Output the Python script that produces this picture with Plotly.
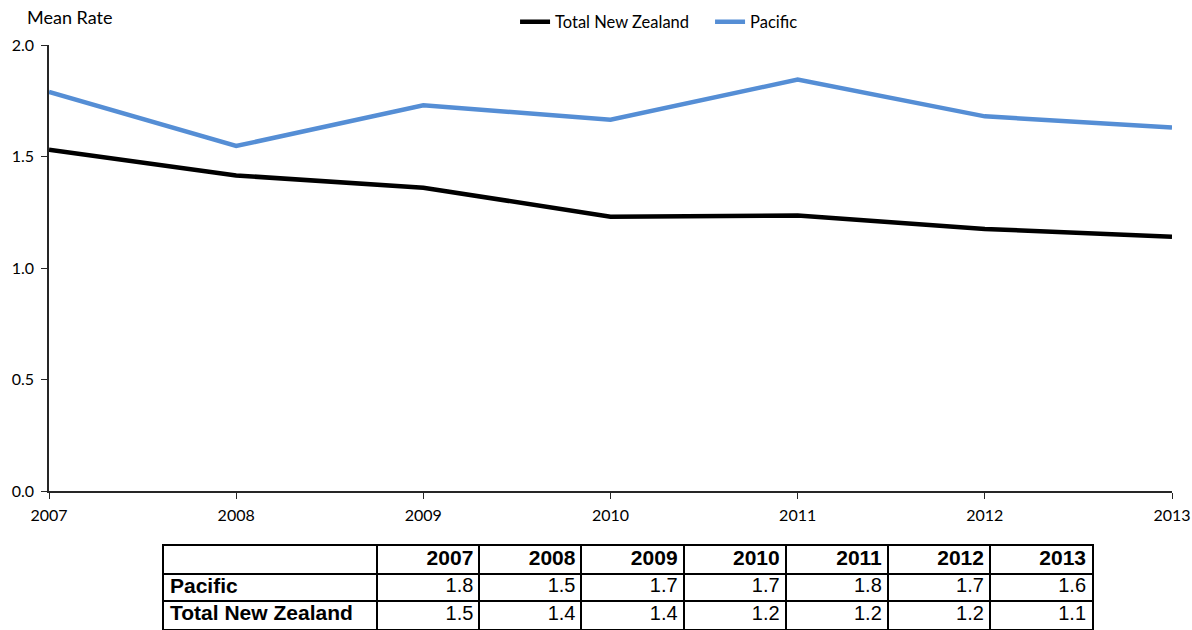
import plotly.graph_objects as go

# data
years = [2007, 2008, 2009, 2010, 2011, 2012, 2013]
pacific = [1.79, 1.547, 1.73, 1.665, 1.845, 1.68, 1.63]
total_nz = [1.53, 1.415, 1.36, 1.23, 1.235, 1.175, 1.14]

# values printed in the table under the chart
pacific_table = [1.8, 1.5, 1.7, 1.7, 1.8, 1.7, 1.6]
total_nz_table = [1.5, 1.4, 1.4, 1.2, 1.2, 1.2, 1.1]
row_labels = ["Pacific", "Total New Zealand"]

y_ticks = [0, 0.5, 1.0, 1.5, 2.0]

chart_font = "Lato"
table_font = "Liberation Sans"

# table column widths (px-like units on the table axis)
col_w = [213] + [102] * len(years)
edges = [0]
for w in col_w:
    edges.append(edges[-1] + w)
pad = 6

fig = go.Figure()

fig.add_trace(go.Scatter(x=years, y=total_nz, mode="lines", name="Total New Zealand",
                         line=dict(color="black", width=4.5)))
fig.add_trace(go.Scatter(x=years, y=pacific, mode="lines", name="Pacific",
                         line=dict(color="#558ED5", width=4.5)))

# table: gridlines of a second axis pair make the borders, text trace fills the cells
tx, ty, tt, tp, tf = [], [], [], [], []
for i, y in enumerate(years):
    right = edges[i + 2] - pad
    tx += [right, right, right]
    ty += [0.5, 1.5, 2.5]
    tt += ["<b>%d</b>" % y, "%.1f" % pacific_table[i], "%.1f" % total_nz_table[i]]
    tp += ["middle left"] * 3
    tf += [21, 20, 20]
for j, lab in enumerate(row_labels):
    tx.append(pad)
    ty.append(1.5 + j)
    tt.append("<b>%s</b>" % lab)
    tp.append("middle right")
    tf.append(21)

fig.add_trace(go.Scatter(x=tx, y=ty, text=tt, mode="text", textposition=tp,
                         textfont=dict(family=table_font, size=tf, color="black"),
                         xaxis="x2", yaxis="y2", showlegend=False, hoverinfo="skip"))

fig.add_annotation(text="Mean Rate", xref="paper", yref="paper", x=-0.0214, y=1.048,
                   xanchor="left", yanchor="middle", showarrow=False,
                   font=dict(family=chart_font, size=18, color="black"))

axis_col = "#262626"
fig.update_layout(
    width=1192, height=630,
    margin=dict(l=49, r=20, t=45, b=0, autoexpand=False),
    paper_bgcolor="white", plot_bgcolor="white",
    font=dict(family=chart_font, size=16, color="black"),
    showlegend=True,
    legend=dict(orientation="h", x=0.415, y=1.0393, xanchor="left", yanchor="middle",
                font=dict(family=chart_font, size=16.5, color="black"),
                bgcolor="rgba(0,0,0,0)", entrywidth=150, itemwidth=30),
    xaxis=dict(range=[2007, 2013], tickvals=years, showgrid=False, zeroline=False,
               showline=True, linecolor=axis_col, linewidth=1.5, automargin=False,
               ticks="outside", ticklen=6, tickcolor=axis_col, ticklabelstandoff=3,
               tickfont=dict(size=16), domain=[0, 1]),
    yaxis=dict(range=[0, 2], tickvals=y_ticks, tickformat=".1f", showgrid=False,
               zeroline=False, showline=True, linecolor=axis_col, linewidth=1.5,
               automargin=False, ticks="outside", ticklen=6, tickcolor=axis_col,
               ticklabelstandoff=4, tickfont=dict(size=16), domain=[0.2376, 1]),
    xaxis2=dict(range=[0, edges[-1]], domain=[0.1024, 0.9288], anchor="y2",
                tickvals=edges[1:-1], showgrid=True, gridcolor="black", gridwidth=2,
                showline=True, mirror=True, linecolor="black", linewidth=2,
                automargin=False, showticklabels=False, ticks="", zeroline=False,
                fixedrange=True),
    yaxis2=dict(range=[3, 0], domain=[0.0017, 0.1436], anchor="x2",
                tickvals=[1, 2], showgrid=True, gridcolor="black", gridwidth=2,
                showline=True, mirror=True, linecolor="black", linewidth=2,
                automargin=False, showticklabels=False, ticks="", zeroline=False,
                fixedrange=True),
)

# drop the browser's default page margin so the figure sits at the window's corner
fig.write_html("out.html", config={"displayModeBar": False},
               post_script="document.body.style.margin = '0';")
